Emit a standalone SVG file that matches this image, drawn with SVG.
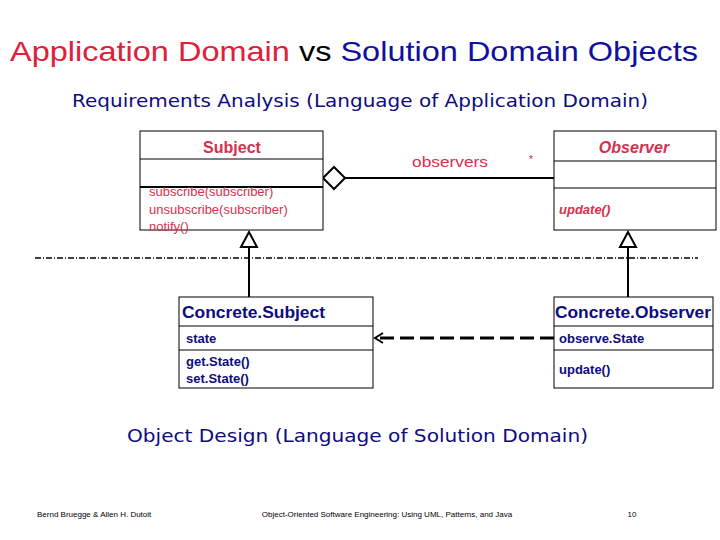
<svg xmlns="http://www.w3.org/2000/svg" width="720" height="540" viewBox="0 0 720 540">
<style>
.box{fill:#fff;stroke:#000;stroke-width:1}
.r{fill:#d6304e;font-family:"Liberation Sans",Arial,sans-serif;font-size:13px}
.b{fill:#0c0c80;font-family:"Liberation Sans",Arial,sans-serif;font-size:13px;font-weight:bold}
.ln{stroke:#000;stroke-width:2;fill:none}
.ft{font-family:"Liberation Sans",Arial,sans-serif;font-size:8px;fill:#000}
</style>
<rect width="720" height="540" fill="#fff"/>
<text x="10" y="61" textLength="688" lengthAdjust="spacingAndGlyphs" font-family="Liberation Sans,Arial,sans-serif" font-size="28"><tspan fill="#e0203a">Application Domain</tspan><tspan fill="#000"> vs </tspan><tspan fill="#1010a0">Solution Domain Objects</tspan></text>
<text x="72" y="107" textLength="576" lengthAdjust="spacingAndGlyphs" font-family="DejaVu Sans,sans-serif" font-size="18" fill="#0c0c80">Requirements Analysis (Language of Application Domain)</text>
<g id="connectors">
<line x1="35" y1="258" x2="698" y2="258" stroke="#000" stroke-width="1.5" stroke-dasharray="6,2,1,2"/>
<line class="ln" x1="345" y1="178" x2="554" y2="178"/>
<polygon points="323,178 334,167 345,178 334,189" fill="#fff" stroke="#000" stroke-width="2"/>
<line class="ln" x1="249" y1="247" x2="249" y2="297"/>
<polygon points="249,232 241,247 257,247" fill="#fff" stroke="#000" stroke-width="2"/>
<line class="ln" x1="628" y1="247" x2="628" y2="297"/>
<polygon points="628,232 620,247 636,247" fill="#fff" stroke="#000" stroke-width="2"/>
<line x1="554" y1="338" x2="376" y2="338" stroke="#000" stroke-width="3" stroke-dasharray="14,6"/>
<polyline points="383,333 375,338 383,343" fill="none" stroke="#000" stroke-width="2"/>
<text x="412" y="167" textLength="76" lengthAdjust="spacingAndGlyphs" class="r" style="font-size:15px">observers</text>
<text x="531" y="163" text-anchor="middle" class="r" style="font-size:11px">*</text>
</g>
<g id="subject">
<rect class="box" x="140" y="131" width="183" height="99"/>
<line x1="140" y1="159" x2="323" y2="159" stroke="#000"/>
<line x1="140" y1="187" x2="323" y2="187" stroke="#000" stroke-width="2"/>
<text x="232" y="153" text-anchor="middle" class="r" font-weight="bold" style="font-size:16px">Subject</text>
<text x="149" y="196" class="r">subscribe(subscriber)</text>
<text x="149" y="214" class="r">unsubscribe(subscriber)</text>
<text x="149" y="231" class="r">notify()</text>
</g>
<g id="observer">
<rect class="box" x="554" y="131" width="162" height="99"/>
<line x1="554" y1="161" x2="716" y2="161" stroke="#000"/>
<line x1="554" y1="188" x2="716" y2="188" stroke="#000"/>
<text x="634" y="153" text-anchor="middle" class="r" font-weight="bold" font-style="italic" style="font-size:16px">Observer</text>
<text x="559" y="214" class="r" font-style="italic" font-weight="bold">update()</text>
</g>
<g id="concreteSubject">
<rect class="box" x="179" y="297" width="194" height="91"/>
<line x1="179" y1="326" x2="373" y2="326" stroke="#000"/>
<line x1="179" y1="350" x2="373" y2="350" stroke="#000"/>
<text x="182" y="318" textLength="143" lengthAdjust="spacingAndGlyphs" class="b" style="font-size:16px">Concrete.Subject</text>
<text x="186" y="343" class="b">state</text>
<text x="186" y="366" class="b">get.State()</text>
<text x="186" y="383" class="b">set.State()</text>
</g>
<g id="concreteObserver">
<rect class="box" x="554" y="297" width="159" height="91"/>
<line x1="554" y1="326" x2="713" y2="326" stroke="#000"/>
<line x1="554" y1="350" x2="713" y2="350" stroke="#000"/>
<text x="555" y="318" textLength="156" lengthAdjust="spacingAndGlyphs" class="b" style="font-size:16px">Concrete.Observer</text>
<text x="559" y="343" class="b">observe.State</text>
<text x="559" y="374" class="b">update()</text>
</g>
<text x="127" y="442" textLength="461" lengthAdjust="spacingAndGlyphs" font-family="DejaVu Sans,sans-serif" font-size="18" fill="#0c0c80">Object Design (Language of Solution Domain)</text>
<text x="37" y="517" class="ft">Bernd Bruegge &amp; Allen H. Dutoit</text>
<text x="387" y="517" text-anchor="middle" class="ft">Object-Oriented Software Engineering: Using UML, Patterns, and Java</text>
<text x="632" y="517" text-anchor="middle" class="ft">10</text>
</svg>
